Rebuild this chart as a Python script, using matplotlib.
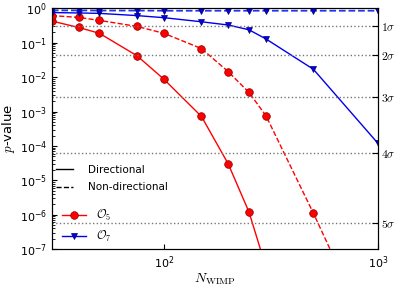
import matplotlib
matplotlib.use("Agg")
import matplotlib.pyplot as plt
from matplotlib.lines import Line2D

# WIMP counts
n_wimp = [30, 40, 50, 75, 100, 150, 200, 250, 300, 500, 1000]

# O5 (red) p-values
o5_dir = [0.43, 0.28, 0.19, 0.042, 0.0088, 7.2e-4, 3.0e-5, 1.2e-6, 3.0e-8]
o5_nondir = [0.62, 0.55, 0.45, 0.30, 0.19, 0.068, 0.0145, 0.0036, 7.6e-4, 1.1e-6, 1e-10]

# O7 (blue) p-values
o7_dir = [0.76, 0.74, 0.72, 0.62, 0.54, 0.41, 0.33, 0.24, 0.13, 0.017, 1.2e-4]
o7_nondir = [0.88, 0.88, 0.87, 0.87, 0.86, 0.86, 0.86, 0.86, 0.86, 0.86, 0.86]

# two-sided significance levels
sigma_p = [0.3173, 0.0455, 0.0027, 6.33e-5, 5.73e-7]
sigma_labels = [r'$1\sigma$', r'$2\sigma$', r'$3\sigma$', r'$4\sigma$', r'$5\sigma$']

plt.rcParams['xtick.direction'] = 'in'
plt.rcParams['ytick.direction'] = 'in'
plt.rcParams['font.size'] = 8

fig = plt.figure(figsize=(3.99, 2.92), dpi=100)
ax = fig.add_axes([0.130, 0.147, 0.817, 0.824])

red = '#ff0000'
blue = '#0000ee'

ax.plot(n_wimp[:len(o5_dir)], o5_dir, '-', color=red, lw=1, marker='o', ms=5.5,
        mfc=red, mec='#880000', mew=0.5)
ax.plot(n_wimp[:len(o5_nondir)], o5_nondir, '--', color=red, lw=1, marker='o', ms=5.5,
        mfc=red, mec='#880000', mew=0.5)
ax.plot(n_wimp, o7_dir, '-', color=blue, lw=1, marker='v', ms=5,
        mfc=blue, mec='#000066', mew=0.5)
ax.plot(n_wimp, o7_nondir, '--', color='#2233ee', lw=1.3, marker='v', ms=5,
        mfc=blue, mec='#000066', mew=0.5)

for p in sigma_p:
    ax.axhline(p, color='#777777', ls=':', lw=1)

ax.set_xscale('log')
ax.set_yscale('log')
ax.set_xlim(30, 1000)
ax.set_ylim(1e-7, 1)
ax.tick_params(which='both', top=True, labelsize=8)
ax.tick_params(axis='y', which='minor', left=False, right=False)

ax.set_ylabel(r'$p$-value', fontsize=9.5, math_fontfamily='cm', labelpad=2)
ax.set_xlabel(r'$N_{\rm WIMP}$', fontsize=10, math_fontfamily='cm', labelpad=1)

ax2 = ax.twinx()
ax2.set_yscale('log')
ax2.set_ylim(1e-7, 1)
ax2.minorticks_off()
ax2.set_yticks(sigma_p)
ax2.set_yticklabels(sigma_labels)
for t in ax2.get_yticklabels():
    t.set_math_fontfamily('cm')
    t.set_fontsize(8.5)
ax2.tick_params(axis='y', direction='in', length=4, pad=2)

h1 = [Line2D([], [], color='k', ls='-', lw=1),
      Line2D([], [], color='k', ls='--', lw=1)]
leg1 = ax.legend(h1, ['Directional', 'Non-directional'], loc='upper left',
                 bbox_to_anchor=(-0.015, 0.39), frameon=False, fontsize=7.5,
                 handlelength=1.6, handletextpad=1.4, labelspacing=0.75)
ax.add_artist(leg1)

h2 = [Line2D([], [], color=red, ls='-', lw=1, marker='o', ms=5.5, mfc=red, mec='#880000', mew=0.5),
      Line2D([], [], color=blue, ls='-', lw=1, marker='v', ms=5, mfc=blue, mec='#000066', mew=0.5)]
leg2 = ax.legend(h2, [r'$\mathcal{O}_5$', r'$\mathcal{O}_7$'], loc='upper left',
                 bbox_to_anchor=(0.0, 0.215), frameon=False, fontsize=8.5,
                 handlelength=2.0, labelspacing=0.55)
for t in leg2.get_texts():
    t.set_math_fontfamily('cm')

fig.savefig('out.png', dpi=100)
